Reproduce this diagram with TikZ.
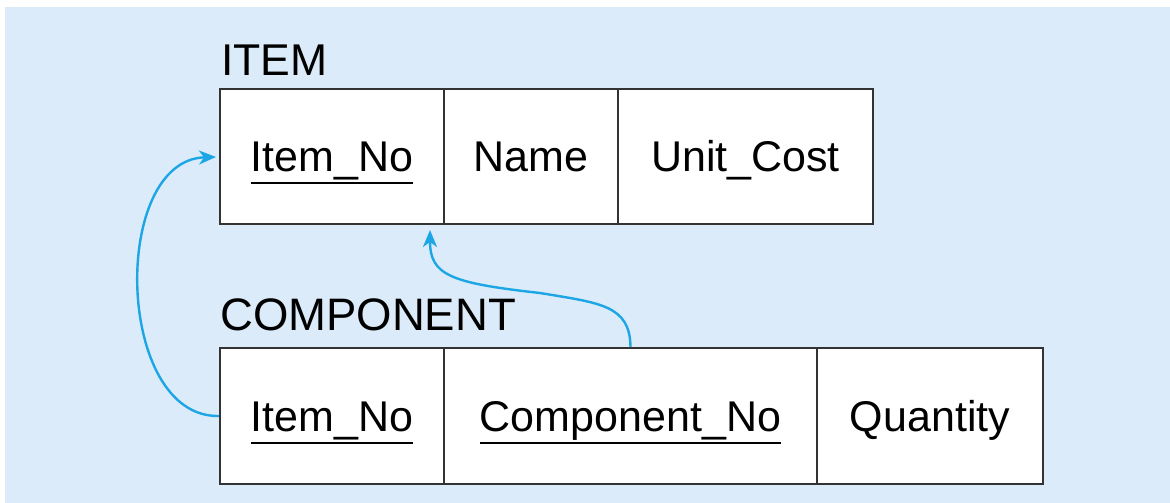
\documentclass[tikz,border=0pt]{standalone}
\usepackage{fontspec}
\setmainfont{Liberation Sans}
\usetikzlibrary{arrows.meta}
\definecolor{bgblue}{HTML}{DBEBF9}
\definecolor{arrowblue}{HTML}{1DA6E6}
\definecolor{linegray}{HTML}{333333}
\newcommand{\keyul}[1]{\setbox0\hbox{#1}\rlap{\rule[-12bp]{\wd0}{2bp}}\box0}
\begin{document}
\begin{tikzpicture}[x=1bp,y=-1bp,
  cell/.style={draw=linegray, line width=2bp, fill=white, inner sep=0pt,
    text height=31bp, text depth=0pt, font=\fontsize{43bp}{50bp}\selectfont},
  toprow/.style={cell, minimum height=135bp},
  botrow/.style={cell, minimum height=136bp},
  tabletitle/.style={anchor=base west, inner sep=0pt, font=\fontsize{44.5bp}{50bp}\selectfont},
  fk/.style={draw=arrowblue, line width=2.4bp, -{Stealth[length=17bp,width=14bp,inset=5bp]}}]
\useasboundingbox (0,0) rectangle (1170,503);
\fill[white] (0,0) rectangle (1170,503);
\fill[bgblue] (5,7) rectangle (1170,503);

% ITEM
\node[tabletitle] (itemt) at (221,76) {ITEM};
\node[toprow, minimum width=224bp] (ii) at (332,156.5) {\keyul{Item\_No}};
\node[toprow, minimum width=174bp] (in) at (531,156.5) {Name};
\node[toprow, minimum width=255bp] (iu) at (745.5,156.5) {Unit\_Cost};

% COMPONENT
\node[tabletitle, font=\fontsize{45.5bp}{50bp}\selectfont] (compt) at (220,331) {COMPONENT};
\node[botrow, minimum width=224bp] (ci) at (332,416) {\keyul{Item\_No}};
\node[botrow, minimum width=373bp] (cc) at (630.5,416) {\keyul{Component\_No}};
\node[botrow, minimum width=226bp] (cq) at (930,416) {Quantity};

% foreign keys
\coordinate (t1) at (216,157);
\coordinate (t2) at (430,230);
\draw[fk] (ci.west) .. controls (115,418) and (110,160) .. (t1);
\draw[fk] (cc.north) .. controls (630,305) and (600,303) .. (540,293)
  .. controls (450,283) and (430,275) .. (t2);
\end{tikzpicture}
\end{document}
